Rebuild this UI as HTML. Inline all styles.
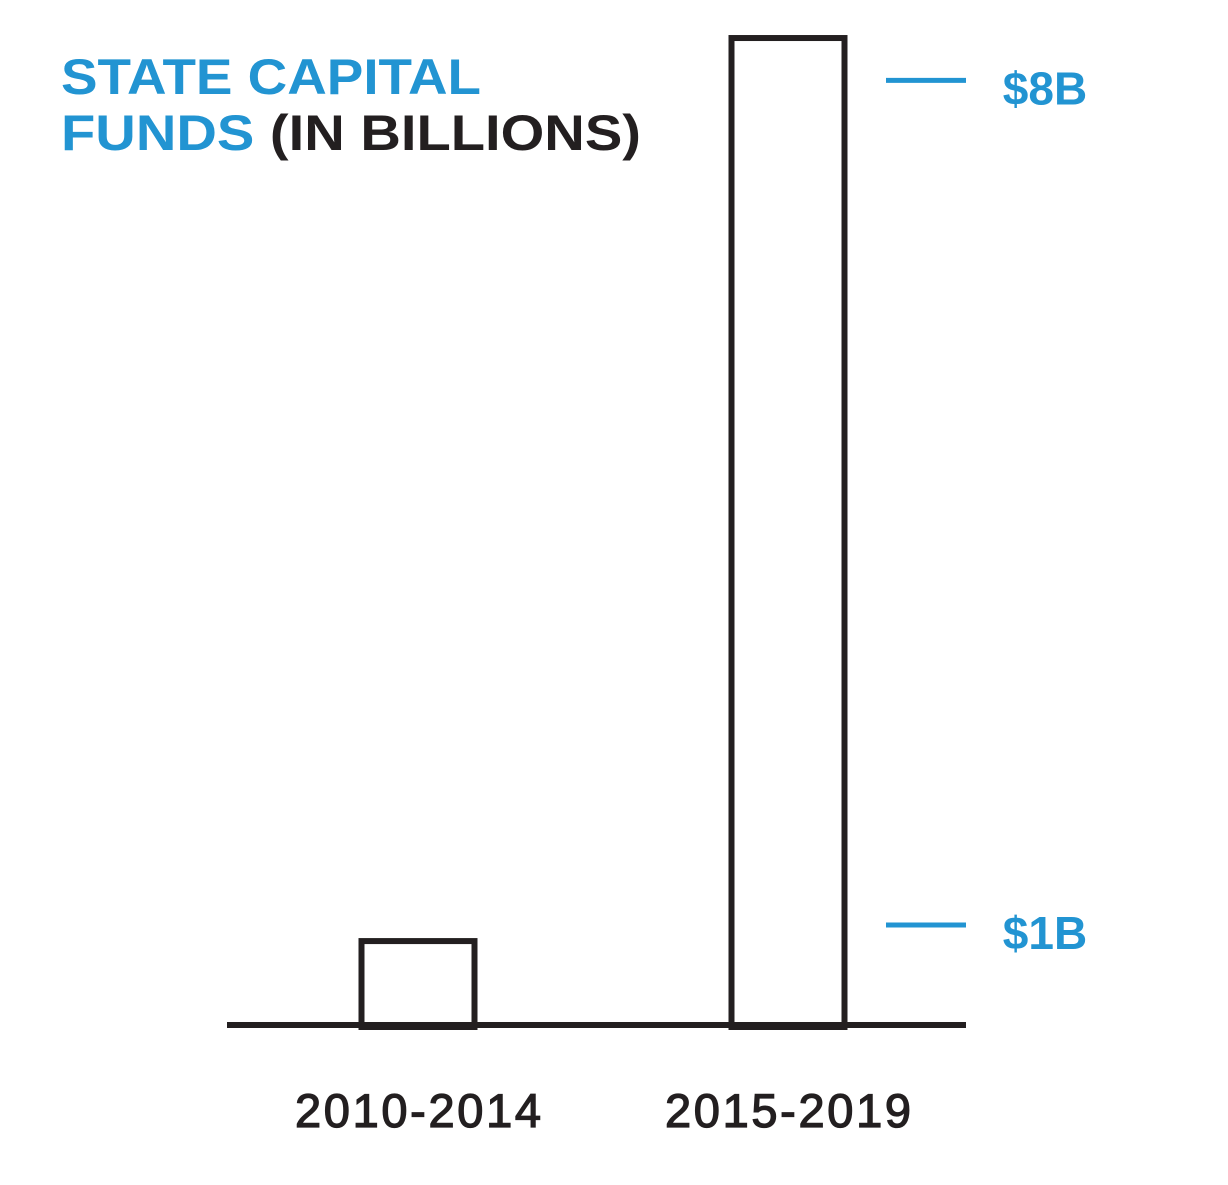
<!DOCTYPE html>
<html><head><meta charset="utf-8"><style>
html,body{margin:0;padding:0;background:#fff;}
svg{display:block;}
</style></head><body>
<svg id="chart" width="1228" height="1185" viewBox="0 0 1228 1185" xmlns="http://www.w3.org/2000/svg">
<rect width="1228" height="1185" fill="#fff"/>
<g font-family="Liberation Sans, sans-serif" font-weight="bold" font-size="50">
<text x="61" y="94" fill="#2294d2" textLength="420" lengthAdjust="spacingAndGlyphs">STATE CAPITAL</text>
<text x="61" y="150" textLength="580" lengthAdjust="spacingAndGlyphs"><tspan fill="#2294d2">FUNDS </tspan><tspan fill="#231f20">(IN BILLIONS)</tspan></text>
</g>
<g id="bars"></g>
<line x1="227" y1="1025" x2="966" y2="1025" stroke="#231f20" stroke-width="6"/>
<g id="ticks"></g>
<g id="xlabels"></g>
</svg>
<script>
const categories = ["2010-2014", "2015-2019"];
const values = [0.71, 8.35];
const tickValues = [1, 8];
const tickLabels = ["$1B", "$8B"];

const NS = "http://www.w3.org/2000/svg";
const baseY = 1025, pxPerB = 118.2;
function y(v){ return baseY - v*pxPerB; }
function xCenter(i){ return 418 + i*370; }
const barW = 113;

const bars = document.getElementById('bars');
values.forEach((v,i)=>{
  const r = document.createElementNS(NS,'rect');
  
  
  r.setAttribute('x', xCenter(i) - barW/2);
  r.setAttribute('y', y(v));
  r.setAttribute('width', barW);
  r.setAttribute('height', baseY + 2 - y(v));
  r.setAttribute('fill', '#fff');
  r.setAttribute('stroke', '#231f20');
  r.setAttribute('stroke-width', '6');
  bars.appendChild(r);
});

const ticks = document.getElementById('ticks');
tickValues.forEach((v,i)=>{
  const ty = (v === 1) ? 925 : y(v) + 1;
  const l = document.createElementNS(NS,'line');
  
  
  l.setAttribute('x1', 886); l.setAttribute('x2', 966);
  l.setAttribute('y1', ty); l.setAttribute('y2', ty);
  l.setAttribute('stroke', '#2294d2'); l.setAttribute('stroke-width', '5');
  ticks.appendChild(l);
  const t = document.createElementNS(NS,'text');
  
  
  t.setAttribute('x', 1045); t.setAttribute('y', ty + 24);
  t.setAttribute('text-anchor', 'middle');
  t.setAttribute('font-family', 'Liberation Sans, sans-serif');
  t.setAttribute('font-weight', 'bold'); t.setAttribute('font-size', '46');
  t.setAttribute('fill', '#2294d2');
  t.textContent = tickLabels[i];
  ticks.appendChild(t);
});

const xl = document.getElementById('xlabels');
categories.forEach((c,i)=>{
  const t = document.createElementNS(NS,'text');
  
  
  t.setAttribute('x', xCenter(i)); t.setAttribute('y', 1127);
  t.setAttribute('text-anchor', 'middle');
  t.setAttribute('font-family', 'Liberation Sans, sans-serif');
  t.setAttribute('font-size', '47');
  t.setAttribute('fill', '#231f20');
  t.setAttribute('stroke', '#231f20'); t.setAttribute('stroke-width', '1.3');
  t.setAttribute('textLength', '246'); t.setAttribute('lengthAdjust', 'spacing');
  t.textContent = c;
  xl.appendChild(t);
});
</script>
</body></html>
